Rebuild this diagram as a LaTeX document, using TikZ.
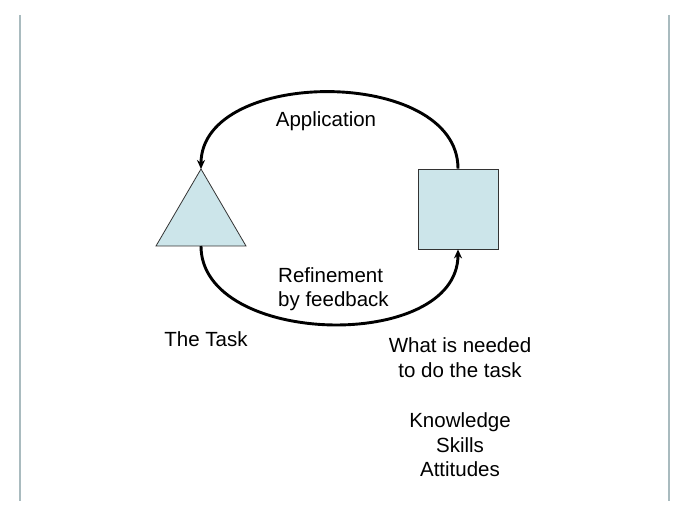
\documentclass[tikz,border=0pt]{standalone}
\usepackage{fontspec}
\setmainfont{Liberation Sans}
\usetikzlibrary{arrows.meta}
\definecolor{boxfill}{HTML}{CCE5EA}
\definecolor{sideline}{HTML}{A9BBBF}
\tikzset{
  shapefill/.style={fill=boxfill,draw=black!80,line width=0.8pt},
  cycle/.style={line width=2.9pt,-{Stealth[length=9pt,width=8pt]}},
  lbl/.style={font=\fontsize{20.5pt}{24.5pt}\selectfont,inner sep=0pt,anchor=base},
  side/.style={draw=sideline,line width=2pt}
}
\begin{document}
\begin{tikzpicture}[x=1pt,y=1pt]
\useasboundingbox (0,0) rectangle (689,517);
% side rules
\coordinate (lt) at (20,502); \coordinate (lb) at (20,16);
\coordinate (rt) at (669,502); \coordinate (rb) at (669,16);
\draw[side] (lt) -- (lb);
\draw[side] (rt) -- (rb);
% triangle
\coordinate (triTop) at (201,348);
\coordinate (triL) at (156,271);
\coordinate (triR) at (246,271);
\coordinate (triBot) at (201,271);
\draw[shapefill] (triTop) -- (triR) -- (triL) -- cycle;
% square
\node[shapefill,minimum size=80pt,inner sep=0pt] (sq) at (458,308) {};
% arcs
\draw[cycle] (sq.north) .. controls +(0,102) and +(0,102) .. (triTop);
\draw[cycle] (triBot) .. controls +(0,-101) and +(0,-103) .. (sq.south);
% labels
\node[lbl] (app) at (326,390) {Application};
\node[lbl,anchor=base west] (ref1) at (278,234) {Refinement};
\node[lbl,anchor=base west] (ref2) at (278,210) {by feedback};
\node[lbl] (task) at (206,170) {The Task};
\node[lbl,align=center,anchor=base] (need) at (460,40) {What is needed\\to do the task\\[26pt]Knowledge\\Skills\\Attitudes};
\end{tikzpicture}
\end{document}
